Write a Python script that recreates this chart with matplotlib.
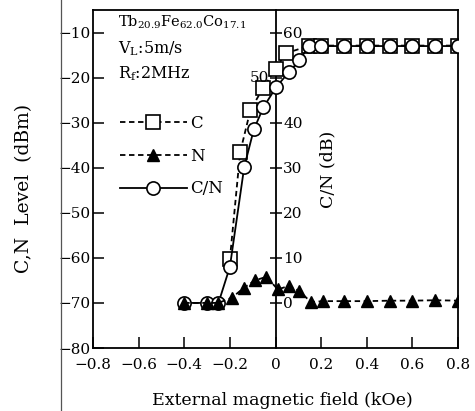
import numpy as np
import matplotlib
matplotlib.use("Agg")
import matplotlib.pyplot as plt
from matplotlib.lines import Line2D

plt.rcParams["font.family"] = "DejaVu Serif"
plt.rcParams["mathtext.fontset"] = "dejavuserif"
plt.rcParams["font.size"] = 11

# carrier level C (dBm), squares
c_x = [-0.2, -0.155, -0.11, -0.053, 0.0, 0.045, 0.145, 0.2, 0.3, 0.4, 0.5, 0.6, 0.7, 0.8]
c_level = [-60.3, -36.6, -27.2, -22.2, -18.0, -14.6, -13.0, -12.9, -12.9, -12.9, -12.9, -12.9, -12.9, -12.9]

# noise level N (dBm), triangles
n_x = [-0.4, -0.3, -0.25, -0.19, -0.14, -0.09, -0.04, 0.01, 0.06, 0.105, 0.155, 0.21,
       0.3, 0.4, 0.5, 0.6, 0.7, 0.8]
n_level = [-70.0, -70.0, -70.0, -68.8, -66.7, -65.0, -64.2, -67.0, -66.2, -67.4, -69.8, -69.6,
           -69.6, -69.6, -69.5, -69.5, -69.4, -69.5]

# C/N (dB), circles, read on the inner right axis
cn_x = [-0.4, -0.3, -0.25, -0.2, -0.137, -0.095, -0.053, 0.003, 0.06, 0.105, 0.145, 0.2,
        0.3, 0.4, 0.5, 0.6, 0.7, 0.8]
cn_db = [0.0, 0.0, 0.0, 8.0, 30.2, 38.5, 43.4, 47.9, 51.3, 53.8, 57.0, 57.0,
         57.0, 57.0, 57.0, 57.0, 57.0, 57.0]

x_ticks = [-0.8, -0.6, -0.4, -0.2, 0.0, 0.2, 0.4, 0.6, 0.8]
x_ticklabels = ["\u22120.8", "\u22120.6", "\u22120.4", "\u22120.2", "0", "0.2", "0.4", "0.6", "0.8"]
level_ticks = [-80, -70, -60, -50, -40, -30, -20, -10]
cn_ticks = [0, 10, 20, 30, 40, 50, 60]


def level_to_cn(y):
    return y + 70


def cn_to_level(c):
    return c - 70


fig = plt.figure(figsize=(4.75, 4.11), dpi=100)
ax = fig.add_axes([93 / 475, 1 - 348 / 411, 365 / 475, 338 / 411])

ax.plot(c_x, c_level, color="black", lw=1.3, ls=(0, (3, 2)), marker="s", ms=9.5,
        mfc="white", mec="black", mew=1.2, zorder=2, label="C")
ax.plot(cn_x, cn_to_level(np.array(cn_db)), color="black", lw=1.3, ls="-", marker="o", ms=9.5,
        mfc="white", mec="black", mew=1.2, zorder=3, label="C/N")
ax.plot(n_x, n_level, color="black", lw=1.3, ls=(0, (3, 2)), marker="^", ms=8,
        mfc="black", mec="black", zorder=4, label="N")

ax.set_xlim(-0.8, 0.8)
ax.set_ylim(-80, -5)
ax.set_xticks(x_ticks, labels=x_ticklabels)
ax.set_yticks(level_ticks)
ax.tick_params(axis="both", direction="in", length=8, width=1.1, top=False, right=False)
ax.tick_params(axis="x", pad=7)
ax.tick_params(axis="y", pad=2)
for s in ax.spines.values():
    s.set_linewidth(1.3)

sec = ax.secondary_yaxis(0.5, functions=(level_to_cn, cn_to_level))
sec.set_yticks(cn_ticks, labels=[str(t) if t != 50 else "" for t in cn_ticks])
sec.tick_params(direction="inout", length=9, width=1.1, pad=1)
sec.spines["right"].set_linewidth(1.3)
ax.text(-0.03, cn_to_level(50), "50", ha="right", va="center")

ax.set_xlabel("External magnetic field (kOe)", fontsize=12.5)
ax.xaxis.set_label_coords(0.52, -0.13)
ax.set_ylabel("C,N  Level  (dBm)", fontsize=13.5)
ax.yaxis.set_label_coords(-0.165, 0.473)
ax.text(0.644, 0.527, "C/N (dB)", transform=ax.transAxes, rotation=90,
        ha="center", va="center", fontsize=12.5)

ax.text(0.068, 0.9497, "Tb$_{20.9}$Fe$_{62.0}$Co$_{17.1}$", transform=ax.transAxes,
        va="baseline", fontsize=10.5)
ax.text(0.068, 0.8728, "V$_{\\rm L}$:5m/s", transform=ax.transAxes, va="baseline", fontsize=11.5)
ax.text(0.068, 0.7988, "R$_{\\rm f}$:2MHz", transform=ax.transAxes, va="baseline", fontsize=11.5)

h, l = ax.get_legend_handles_labels()
order = [0, 2, 1]
ax.legend([h[i] for i in order], [l[i] for i in order], loc="upper left",
          bbox_to_anchor=(0.074, 0.69), frameon=False, borderpad=0, borderaxespad=0,
          handlelength=4.0, handletextpad=0.2, labelspacing=0.95, numpoints=1,
          fontsize=12)

# scanned page margin line
fig.add_artist(Line2D([61 / 475, 61 / 475], [0, 1], transform=fig.transFigure,
                      color="#555555", lw=0.9))

fig.savefig("out.png", dpi=100)
